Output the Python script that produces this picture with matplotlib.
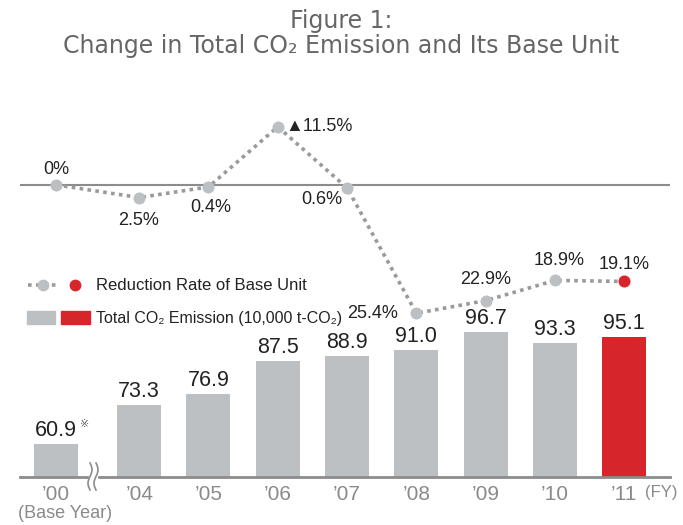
import numpy as np
import matplotlib
matplotlib.use("Agg")
import matplotlib.pyplot as plt
from matplotlib.patches import Rectangle
from matplotlib.lines import Line2D

years = ["\u201900", "\u201904", "\u201905", "\u201906", "\u201907", "\u201908", "\u201909", "\u201910", "\u201911"]
emission = [60.9, 73.3, 76.9, 87.5, 88.9, 91.0, 96.7, 93.3, 95.1]
reduction = [0.0, 2.5, 0.4, -11.5, 0.6, 25.4, 22.9, 18.9, 19.1]
rate_labels = ["0%", "2.5%", "0.4%", "\u25b211.5%", "0.6%", "25.4%", "22.9%", "18.9%", "19.1%"]

GRAY = "#bdc0c3"
RED = "#d7262b"
AXGRAY = "#8c8c8c"
NARROW = ["Liberation Sans", "DejaVu Sans"]

W, H = 683, 525
fig = plt.figure(figsize=(W / 100, H / 100), dpi=100)

def fx(px):
    return px / W

def fy(py):
    return 1 - py / H

ax = fig.add_axes([fx(20), fy(477), 650 / W, 377 / H])
xs = np.r_[0, np.arange(8) + 1.2]
colors = [GRAY] * 8 + [RED]
ax.bar(xs, emission, width=0.635, color=colors, bottom=0, zorder=2)
ax.set_xlim(-0.52, 8.86)
ax.set_ylim(50.4, 170.8)
for s in ax.spines.values():
    s.set_visible(False)
ax.axhline(50.4, color=AXGRAY, lw=2, zorder=3, clip_on=False)
ax.set_yticks([])
ax.set_xticks(xs, years)
ax.tick_params(axis="x", length=0, pad=6, labelsize=15, labelcolor="#8a8a8a")
for t in ax.get_xticklabels():
    t.set_family(NARROW)

for x, v in zip(xs, emission):
    ax.annotate(f"{v:.1f}", (x, v), xytext=(0, 3), textcoords="offset pixels",
                ha="center", va="bottom", fontsize=15.5, color="#222222", family=NARROW)
ax.annotate("\u203b", (xs[0], emission[0]), xytext=(24, 15), textcoords="offset pixels",
            ha="left", va="bottom", fontsize=8, color="#555555")

fig.text(fx(65), fy(513), "(Base Year)", ha="center", va="center", fontsize=13,
         color="#8a8a8a", family=NARROW)
fig.text(fx(645), fy(492), "(FY)", ha="left", va="center", fontsize=12,
         color="#8a8a8a", family=NARROW)

# axis break mark
fig.patches.append(Rectangle((fx(89), fy(481)), 8 / W, 8 / H, transform=fig.transFigure,
                             color="white", zorder=5))
t = np.linspace(0, 1, 40)
for x0 in (90, 96):
    fig.lines.append(Line2D(fx(x0 + 2 * np.sin(2 * np.pi * t)), fy(463 + 27 * t),
                            transform=fig.transFigure, color=AXGRAY, lw=1.2, zorder=6))

# reduction rate line
ax2 = ax.twinx()
ax2.set_ylim(57.8, -16.8)
ax2.axis("off")
ax2.axhline(0, color=AXGRAY, lw=1.5, zorder=1)
ax2.plot(xs, reduction, ls=(0, (1, 1.2)), lw=2.6, color="#9a9a9a", zorder=2)
ax2.scatter(xs[:-1], reduction[:-1], s=75, color=GRAY, zorder=3, linewidths=0)
ax2.scatter(xs[-1:], reduction[-1:], s=75, color=RED, zorder=3, linewidths=0)

offsets = [(0, 15, "center"), (-1, -23, "center"), (2, -21, "center"), (8, 0, "left"),
           (-25, -12, "center"), (-44, 0, "center"), (0, 21, "center"), (4, 20, "center"),
           (0, 17, "center")]
for x, v, lab, (dx, dy, ha) in zip(xs, reduction, rate_labels, offsets):
    ax2.annotate(lab, (x, v), xytext=(dx, dy), textcoords="offset pixels",
                 ha=ha, va="center", fontsize=13, color="#222222", family=NARROW)

# legend
fig.lines.append(Line2D([fx(28), fx(58)], [fy(285), fy(285)], transform=fig.transFigure,
                        ls=(0, (1, 1.2)), lw=2.6, color="#9a9a9a"))
fig.lines.append(Line2D([fx(43)], [fy(285)], transform=fig.transFigure, marker="o",
                        ms=8.5, mec="none", color=GRAY))
fig.lines.append(Line2D([fx(75)], [fy(285)], transform=fig.transFigure, marker="o",
                        ms=8.5, mec="none", color=RED))
fig.patches.append(Rectangle((fx(27), fy(324)), 28 / W, 13 / H, transform=fig.transFigure,
                             color=GRAY))
fig.patches.append(Rectangle((fx(61), fy(324)), 29 / W, 13 / H, transform=fig.transFigure,
                             color=RED))
fig.text(fx(96), fy(285), "Reduction Rate of Base Unit", ha="left", va="center",
         fontsize=12, color="#222222", family=["Liberation Sans", "DejaVu Sans"])
fig.text(fx(96), fy(318), "Total CO\u2082 Emission (10,000 t-CO\u2082)", ha="left", va="center",
         fontsize=11.5, color="#222222", family=["Liberation Sans", "DejaVu Sans"])

# title
fig.text(0.5, fy(21), "Figure 1:", ha="center", va="center", fontsize=17, color="#666666")
fig.text(0.5, fy(46), "Change in Total CO\u2082 Emission and Its Base Unit", ha="center",
         va="center", fontsize=17, color="#666666")

fig.savefig("out.png", dpi=100)
